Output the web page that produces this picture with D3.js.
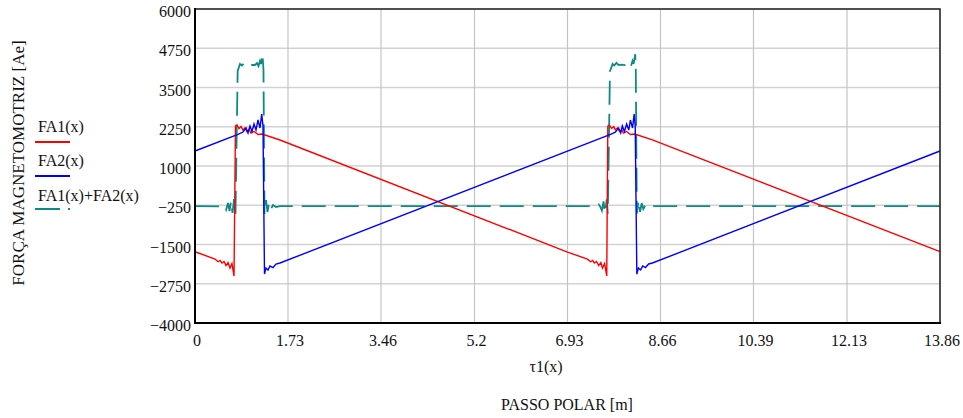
<!DOCTYPE html>
<meta charset="utf-8">
<html>
<head>
<script src="https://d3js.org/d3.v7.min.js"></script>
<style>
  body { margin: 0; background: #fff; }
  text { font-family: "Liberation Serif", "Times New Roman", serif; fill: #111; }
</style>
</head>
<body>
<div id="my_dataviz"></div>
<script>
// tick values
const xTicks = [0, 1.73, 3.46, 5.2, 6.93, 8.66, 10.39, 12.13, 13.86];
const yTicks = [-4000, -2750, -1500, -250, 1000, 2250, 3500, 4750, 6000];

// FA1(x) - red
const fa1 = [
  [0, -1730], [0.372, -1962], [0.428, -2049], [0.465, -2010], [0.502, -2090], [0.540, -2042],
  [0.577, -2170], [0.614, -2074], [0.651, -2249], [0.688, -2106], [0.726, -2504],
  [0.753, 2274], [0.781, 2306], [0.819, 2194], [0.856, 2258], [0.893, 2146], [0.930, 2210],
  [0.967, 2099], [1.005, 2163], [1.042, 2051], [1.098, 2099], [1.172, 2003], [1.247, 2019],
  [1.581, 1828], [6.93, -1740],
  [7.30, -1965], [7.36, -2050], [7.40, -2010], [7.43, -2090], [7.47, -2040], [7.51, -2170],
  [7.55, -2075], [7.58, -2250], [7.62, -2105], [7.66, -2500],
  [7.68, 2270], [7.71, 2300], [7.75, 2195], [7.79, 2255], [7.82, 2150], [7.86, 2210],
  [7.90, 2100], [7.94, 2160], [7.97, 2050], [8.03, 2100], [8.10, 2005], [8.18, 2020],
  [8.51, 1830], [13.86, -1730]
];

// FA2(x) - blue
const fa2 = [
  [0, 1478], [0.80, 2010], [0.893, 2082], [0.949, 2210], [0.986, 2051], [1.023, 2274],
  [1.060, 2098], [1.098, 2337], [1.135, 2146], [1.172, 2465], [1.209, 2210], [1.241, 2656],
  [1.265, 2274], [1.293, -2440], [1.321, -2249], [1.358, -2313], [1.395, -2185],
  [1.451, -2233], [1.507, -2122], [1.581, -2090],
  [7.73, 2010], [7.82, 2080], [7.88, 2210], [7.92, 2050], [7.95, 2275], [7.99, 2100],
  [8.03, 2335], [8.07, 2145], [8.10, 2465], [8.14, 2210], [8.17, 2655], [8.19, 2270],
  [8.22, -2445], [8.25, -2250], [8.29, -2310], [8.33, -2185], [8.38, -2235], [8.44, -2120],
  [8.51, -2090], [13.86, 1478]
];

// FA1(x)+FA2(x) - teal dashed
const faSum = [
  [0, -280], [0.50, -285], [0.540, -290], [0.577, -402], [0.614, -179], [0.642, -434],
  [0.670, -115], [0.698, -497], [0.726, -52], [0.753, -529], [0.794, 4025], [0.837, 4248],
  [0.874, 4200], [0.912, 4280], [0.949, 4216], [1.005, 4232], [1.060, 4216], [1.116, 4216],
  [1.153, 4280], [1.181, 4185], [1.209, 4344], [1.228, 4248], [1.256, 4567], [1.274, 4057],
  [1.293, -529], [1.321, -83], [1.349, -465], [1.377, -179], [1.414, -369], [1.451, -243],
  [1.507, -306], [1.581, -280],
  [7.40, -280], [7.47, -250], [7.51, -220], [7.54, -300], [7.57, -420], [7.60, -130],
  [7.63, -490], [7.66, -60], [7.68, -520], [7.72, 4020], [7.77, 4250], [7.80, 4200],
  [7.84, 4285], [7.88, 4215], [7.94, 4230], [7.99, 4215], [8.05, 4220], [8.08, 4285],
  [8.11, 4180], [8.14, 4350], [8.16, 4250], [8.19, 4560], [8.20, 4060], [8.22, -520],
  [8.25, -90], [8.28, -460], [8.31, -180], [8.34, -370], [8.38, -245], [8.44, -300],
  [8.51, -280], [13.86, -280]
];

const W = 963, H = 418;
const svg = d3.select("#my_dataviz").append("svg")
  .attr("width", W).attr("height", H);

const x = d3.scaleLinear().domain([0, 13.86]).range([195, 940]);
const y = d3.scaleLinear().domain([-4000, 6000]).range([323, 9]);

// grid
svg.append("g").selectAll("line").data(yTicks).join("line")
  .attr("x1", x(0)).attr("x2", x(13.86))
  .attr("y1", d => y(d)).attr("y2", d => y(d))
  .attr("stroke", "#d2d2d2").attr("stroke-width", 1.5);
svg.append("g").selectAll("line").data(xTicks).join("line")
  .attr("x1", d => x(d)).attr("x2", d => x(d))
  .attr("y1", y(6000)).attr("y2", y(-4000))
  .attr("stroke", "#c4c4c4").attr("stroke-width", 1.2);

// tick labels
const fmt = v => (v < 0 ? "\u2212" + Math.abs(v) : String(v));
svg.append("g").selectAll("text").data(yTicks).join("text")
  .attr("x", 191).attr("y", d => y(d) + 8)
  .attr("text-anchor", "end").style("font-size", "16px")
  .text(fmt);
svg.append("g").selectAll("text").data(xTicks).join("text")
  .attr("x", d => x(d) + 2).attr("y", 346)
  .attr("text-anchor", "middle").style("font-size", "16px")
  .text(d => d);

// lines
const line = d3.line().x(d => x(d[0])).y(d => y(d[1]));
svg.append("path").datum(faSum)
  .attr("fill", "none").attr("stroke", "#0e8a86").attr("stroke-width", 1.8)
  .attr("stroke-dasharray", "24,9").attr("d", line);
svg.append("path").datum(fa1)
  .attr("fill", "none").attr("stroke", "#ff0000").attr("stroke-width", 1.4)
  .attr("d", line);
svg.append("path").datum(fa2)
  .attr("fill", "none").attr("stroke", "#0000ff").attr("stroke-width", 1.4)
  .attr("d", line);

// frame
svg.append("rect").attr("x", 195).attr("y", 9).attr("width", 745).attr("height", 314)
  .attr("fill", "none").attr("stroke", "#222").attr("stroke-width", 1.5);
svg.append("path").attr("d", "M195,8V323H941")
  .attr("fill", "none").attr("stroke", "#000").attr("stroke-width", 2);

// legend
const legend = [
  {label: "FA1(x)", color: "#ff0000", dash: null, ty: 132, ly: 142},
  {label: "FA2(x)", color: "#0000ff", dash: null, ty: 166, ly: 176},
  {label: "FA1(x)+FA2(x)", color: "#0e8a86", dash: "25,8", ty: 201, ly: 209}
];
legend.forEach(l => {
  svg.append("text").attr("x", 38).attr("y", l.ty).style("font-size", "16px").text(l.label);
  svg.append("line").attr("x1", 35).attr("x2", 70).attr("y1", l.ly).attr("y2", l.ly)
    .attr("stroke", l.color).attr("stroke-width", 1.8)
    .attr("stroke-dasharray", l.dash);
});

// axis titles
svg.append("text").attr("x", 546).attr("y", 372).attr("text-anchor", "middle")
  .style("font-size", "16px").text("\u03c41(x)");
svg.append("text").attr("x", 567).attr("y", 410).attr("text-anchor", "middle")
  .style("font-size", "16px").text("PASSO POLAR [m]");
svg.append("text").attr("transform", "translate(24,163) rotate(-90)")
  .attr("text-anchor", "middle").style("font-size", "17px")
  .text("FOR\u00c7A MAGNETOMOTRIZ [Ae]");
</script>
</body>
</html>
